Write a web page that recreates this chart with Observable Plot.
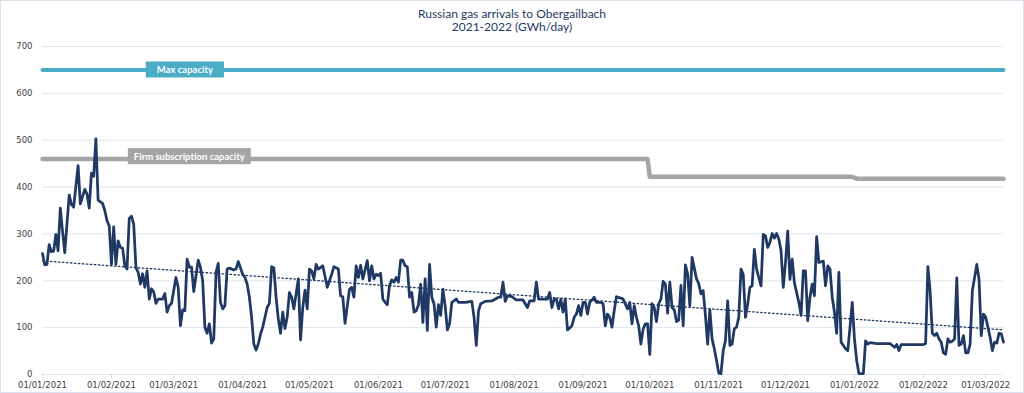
<!DOCTYPE html>
<html><head><meta charset="utf-8">
<script src="https://cdn.jsdelivr.net/npm/d3@7"></script>
<script src="https://cdn.jsdelivr.net/npm/@observablehq/plot@0.6"></script>
<style>
body{margin:0;background:#fff;}
#chart{width:1022px;height:391px;border:1px solid #d9e1ec;position:relative;overflow:hidden;background:#fff;}
#title{height:34px;text-align:center;font-family:"Liberation Sans Narrow","Lato",sans-serif;font-size:12px;line-height:13px;color:#1f3864;padding-top:6px;box-sizing:border-box;}
</style></head><body>
<div id="chart"><div id="title">Russian gas arrivals to Obergailbach<br>2021-2022 (GWh/day)</div></div>
<script>
// Day offsets from 01/01/2021 and daily arrivals (GWh/day)
const dayOffsets = [0,1,2,3,4,5,6,7,8,9,10,12,13,14,16,17,19,20,21,22,23,24,25,27,28,29,30,31,32,33,34,35,36,37,38,39,40,41,42,43,44,45,46,47,48,49,50,51,52,54,55,56,57,58,60,61,62,63,64,65,66,67,68,70,71,72,73,74,75,76,77,78,79,80,81,82,83,84,86,87,88,90,91,92,93,94,95,96,97,98,99,101,102,103,104,105,106,107,108,109,110,111,112,113,115,116,117,118,119,120,121,122,123,124,126,128,130,131,133,134,135,136,138,139,140,141,142,143,144,146,147,148,149,150,151,152,153,154,155,156,157,158,159,160,161,162,163,164,165,166,167,168,169,170,171,172,173,174,175,176,177,178,179,180,181,182,183,184,186,187,190,193,194,195,196,197,199,202,205,206,207,208,209,211,213,216,218,219,221,222,223,227,228,229,230,231,232,233,234,235,236,238,239,240,241,242,243,244,245,246,247,248,249,251,252,253,254,255,256,257,258,260,261,263,264,265,266,267,268,269,270,271,272,273,274,275,276,277,278,279,280,281,282,283,284,285,286,287,288,289,290,291,292,293,294,295,296,297,298,299,300,301,302,303,304,305,306,307,308,309,310,311,312,313,314,315,316,317,318,319,320,321,322,323,324,325,326,327,328,329,330,331,332,333,334,335,336,337,338,340,341,342,343,344,345,346,347,348,349,351,352,353,354,355,356,357,358,359,361,362,363,364,365,366,367,368,369,370,371,372,375,379,381,383,384,385,386,390,396,397,398,399,400,401,402,403,404,405,406,407,408,409,410,411,412,413,414,415,416,417,418,420,421,422,423,424,425,426,427,428,429,430,431,432];
const arrivals = [258,234,235,277,262,263,299,264,355,306,260,383,363,357,446,364,395,385,355,430,423,503,372,365,350,328,317,235,315,235,285,271,270,232,225,333,338,321,228,218,193,215,186,221,161,183,176,152,161,161,173,133,147,152,207,186,104,138,136,246,229,229,177,244,229,200,101,88,108,67,76,218,237,154,140,147,225,227,223,225,241,214,207,193,165,122,65,52,65,86,101,143,152,230,228,165,119,88,133,98,122,175,165,140,204,74,143,180,140,225,221,204,235,225,232,186,214,230,225,168,166,109,182,186,165,232,207,233,204,243,200,232,204,214,211,216,161,154,149,190,202,197,207,197,244,244,232,230,165,175,133,136,149,193,111,204,94,235,165,151,101,149,126,182,147,95,108,154,161,154,154,156,122,62,136,151,156,157,165,165,197,156,168,166,159,159,143,157,157,197,161,161,175,143,161,161,140,161,133,161,95,104,122,129,147,126,154,154,129,154,159,165,154,154,151,104,129,122,101,136,166,163,161,140,154,108,147,122,104,65,97,108,108,43,151,143,113,151,161,199,193,131,197,143,138,113,116,190,104,234,215,147,250,227,204,194,172,179,126,65,138,76,55,30,3,2,51,72,157,62,65,98,101,122,225,214,122,150,186,189,267,225,207,189,299,296,271,282,301,291,301,289,264,186,239,306,203,246,196,154,126,221,221,115,165,193,168,294,239,242,189,232,225,165,133,88,218,69,55,51,101,154,76,30,2,2,2,72,65,68,66,66,66,58,64,51,64,64,64,66,230,179,88,83,88,76,69,46,43,76,69,71,76,206,62,65,83,46,46,65,179,235,203,83,129,122,101,79,51,69,67,88,87,69];

// Capacities
const maxCapDates = ["2021-01-01", "2022-03-09"];
const maxCapValues = [650, 650];
const firmCapDates = ["2021-01-01", "2021-09-30", "2021-10-01", "2021-12-31", "2022-01-02", "2022-03-09"];
const firmCapValues = [460, 460, 422, 422, 418, 418];

// Label annotations
const labelTexts = ["Max capacity", "Firm subscription capacity"];
const labelDates = ["2021-03-06", "2021-03-08"];
const labelValues = [650, 465];

const yTicks = [0, 100, 200, 300, 400, 500, 600, 700];

const navy = "#1f3864";
const teal = "#4bacc6";
const grey = "#a5a5a5";
const labelColors = [teal, grey];

const base = new Date(Date.UTC(2021, 0, 1));
const data = dayOffsets.map((d, i) => ({date: d3.utcDay.offset(base, d), value: arrivals[i]}));
const maxCap = maxCapDates.map((d, i) => ({date: new Date(d), value: maxCapValues[i]}));
const firmCap = firmCapDates.map((d, i) => ({date: new Date(d), value: firmCapValues[i]}));
const capLabels = labelTexts.map((t, i) => ({label: t, date: new Date(labelDates[i]), value: labelValues[i]}));
const monthTicks = d3.utcMonth.range(new Date("2021-01-01"), new Date("2022-03-02"));

const plot = Plot.plot({
  width: 1022, height: 357,
  marginTop: 11, marginBottom: 18, marginLeft: 41, marginRight: 20,
  style: {fontFamily: "DejaVu Sans, sans-serif", fontSize: "8.5px", color: "#404040", background: "transparent", overflow: "visible"},
  x: {type: "utc", domain: [new Date("2021-01-01"), new Date("2022-03-09")], axis: null},
  y: {domain: [0, 700], axis: null},
  marks: [
    Plot.gridY(yTicks, {stroke: "#dce6f2", strokeOpacity: 1, strokeWidth: 1}),
    Plot.axisY(yTicks, {tickSize: 0, tickPadding: 10, fill: "#404040", label: null}),
    Plot.axisX(monthTicks, {tickFormat: d3.utcFormat("%d/%m/%Y"), tickSize: 4, tickPadding: 3, stroke: "#d9d9d9", fill: "#404040", label: null}),
    Plot.line(maxCap, {x: "date", y: "value", stroke: teal, strokeWidth: 4}),
    Plot.line(firmCap, {x: "date", y: "value", stroke: grey, strokeWidth: 4.5}),
    Plot.linearRegressionY(data, {x: "date", y: "value", ci: 0, stroke: navy, strokeWidth: 1.3, strokeDasharray: "1.5,2.5"}),
    Plot.line(data, {x: "date", y: "value", stroke: navy, strokeWidth: 2.75, strokeLinejoin: "round"}),
    Plot.text(capLabels, {x: "date", y: "value", text: "label", fill: "white", fontWeight: "bold", fontSize: 9.5, fontFamily: "Liberation Sans Narrow, Lato, sans-serif"})
  ]
});
document.getElementById("chart").appendChild(plot);

// draw label boxes behind the label texts
d3.select(plot).selectAll("text").each(function() {
  const t = this;
  const i = labelTexts.indexOf(t.textContent);
  if (i < 0) return;
  const bb = t.getBBox();
  const padX = i === 0 ? 11 : 6;
  const rect = document.createElementNS("http://www.w3.org/2000/svg", "rect");
  rect.setAttribute("x", bb.x - padX);
  rect.setAttribute("y", bb.y + bb.height / 2 - 8);
  rect.setAttribute("width", bb.width + 2 * padX);
  rect.setAttribute("height", 16);
  rect.setAttribute("fill", labelColors[i]);
  const tr = t.getAttribute("transform");
  if (tr) rect.setAttribute("transform", tr);
  t.parentNode.insertBefore(rect, t);
});
</script>
</body></html>
